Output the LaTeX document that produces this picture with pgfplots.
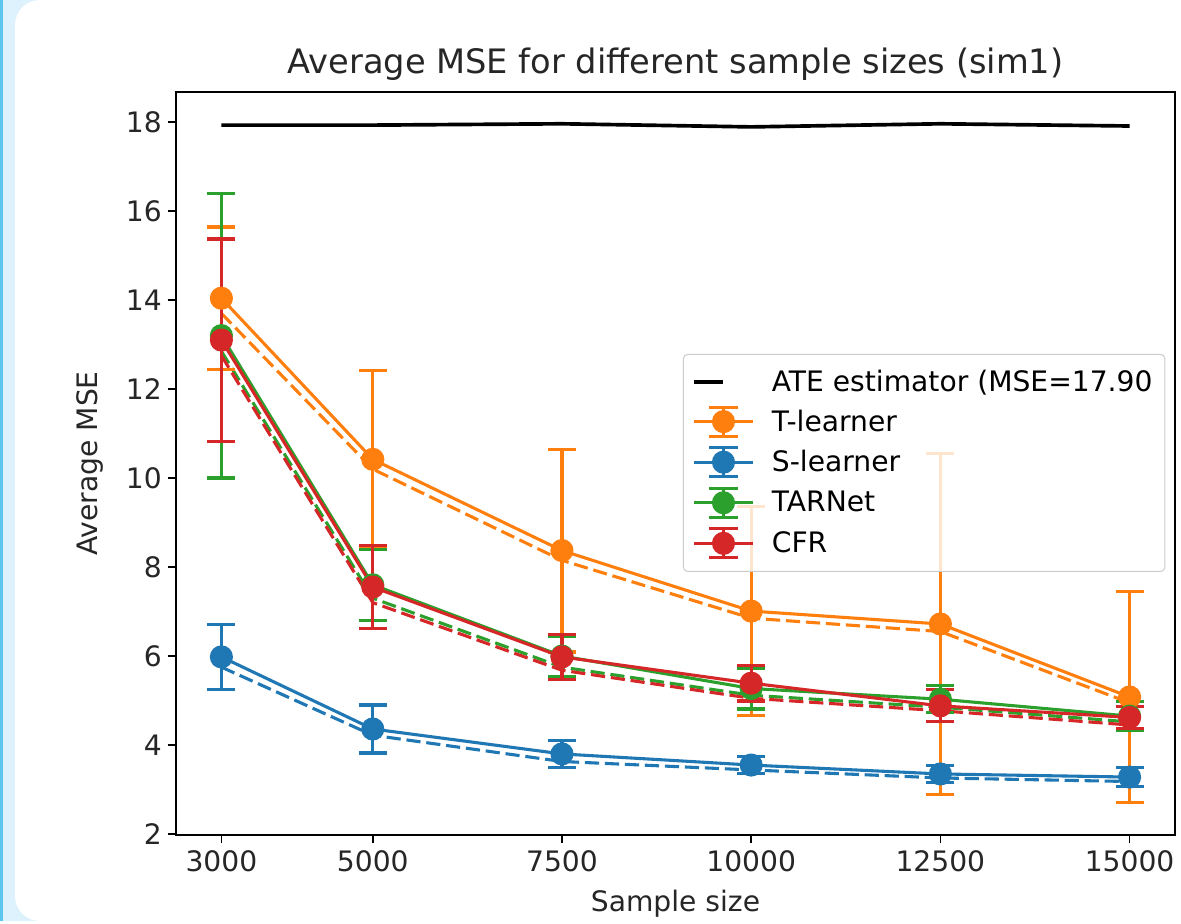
\documentclass[border=0pt]{standalone}
\usepackage{fontspec}
\setmainfont{DejaVu Sans}
\usepackage{pgfplots}
\pgfplotsset{compat=1.18}

\definecolor{tOrange}{HTML}{FF7F0E}
\definecolor{tBlue}{HTML}{1F77B4}
\definecolor{tGreen}{HTML}{2CA02C}
\definecolor{tRed}{HTML}{D62728}
\definecolor{panelblue}{HTML}{DDF2FC}
\definecolor{edgeblue}{HTML}{5CC6EE}

% legend sample: line + circle + capped vertical bar, like matplotlib errorbar
\pgfplotsset{
  errleg/.style={legend image code/.code={
    \begin{scope}[draw=#1, fill=#1, line width=1.85pt, draw opacity=1, fill opacity=1]
      \draw (0pt,0pt) -- (35pt,0pt);
      \draw (17.5pt,-8.7pt) -- (17.5pt,8.7pt);
      \draw (9pt,-8.7pt) -- (26pt,-8.7pt) (9pt,8.7pt) -- (26pt,8.7pt);
      \fill (17.5pt,0pt) circle (6pt);
    \end{scope}}},
  mainline/.style={line width=1.85pt, mark=*, mark size=6pt, mark options={solid},
    error bars/y dir=both, error bars/y explicit,
    error bars/error bar style={line width=1.85pt, solid},
    error bars/error mark options={rotate=90, mark size=8.4pt, line width=1.85pt}},
  dashline/.style={line width=1.85pt, dash pattern=on 8.5pt off 3.5pt, forget plot},
}

\begin{document}
\begin{tikzpicture}
\begin{scope}[x=0.6pt, y=-0.6pt]
  \useasboundingbox (0,0) rectangle (1181,921);
  \fill[panelblue] (0,0) rectangle (1181,921);
  \fill[white, rounded corners=15pt] (15,0) rectangle (1240,921);
  \fill[edgeblue] (0,0) rectangle (2.5,921);
\end{scope}
\begin{axis}[
    at={(105.6pt,-55.2pt)}, anchor=north west,
    width=599.4pt, height=445.8pt, scale only axis,
    xmin=2400, xmax=15600,
    ymin=1.978, ymax=18.674,
    xtick={3000,5000,7500,10000,12500,15000},
    ytick={2,4,6,8,10,12,14,16,18},
    scaled x ticks=false,
    xtick pos=bottom, ytick pos=left,
    tick align=outside,
    major tick length=5pt,
    tick style={black, line width=0.9pt},
    axis line style={black, line width=0.9pt},
    /pgf/number format/1000 sep={},
    /pgf/number format/assume math mode=true,
    tick label style={font=\fontsize{16.9}{19}\selectfont, text=black!85},
    xticklabel style={yshift=-1pt},
    title={Average MSE for different sample sizes (sim1)},
    title style={font=\fontsize{20.2}{23}\selectfont, anchor=base,
      at={(axis description cs:0.5,1.0108)}, text=black!85},
    xlabel={Sample size},
    xlabel style={font=\fontsize{16.9}{19}\selectfont, anchor=base,
      at={(axis description cs:0.5,-0.1036)}, text=black!85},
    ylabel={Average MSE},
    ylabel style={font=\fontsize{16.9}{19}\selectfont, anchor=base, rotate=0,
      at={(axis description cs:-0.0781,0.5)}, text=black!85},
    legend cell align=left,
    legend style={
      font=\fontsize{16.9}{19}\selectfont,
      at={(0.5075,0.6474)}, anchor=north west,
      draw=black!20, line width=0.6pt, fill=white,
      fill opacity=0.8, draw opacity=1, text opacity=1,
      rounded corners=2.4pt,
      inner xsep=5.4pt, inner ysep=7.2pt,
      row sep=5.1pt,
      /tikz/every odd column/.append style={column sep=8.6pt},
    },
    every axis plot/.append style={line join=round},
]
  % ATE baseline
  \addplot[black, line width=2.2pt] coordinates {
    (3000,17.93) (5000,17.93) (7500,17.96) (10000,17.89) (12500,17.96) (15000,17.91)
  };
  \addlegendentry{ATE estimator (MSE=17.90}

  % dashed companions (no legend)
  \addplot[tOrange, dashline] coordinates {
    (3000,13.70) (5000,10.20) (7500,8.15) (10000,6.85) (12500,6.55) (15000,4.95)
  };
  \addplot[tBlue, dashline] coordinates {
    (3000,5.75) (5000,4.22) (7500,3.63) (10000,3.44) (12500,3.26) (15000,3.18)
  };
  \addplot[tGreen, dashline] coordinates {
    (3000,12.85) (5000,7.30) (7500,5.75) (10000,5.12) (12500,4.85) (15000,4.52)
  };
  \addplot[tRed, dashline] coordinates {
    (3000,12.75) (5000,7.20) (7500,5.68) (10000,5.05) (12500,4.77) (15000,4.45)
  };

  % means with error bars
  \addplot[color=tOrange, mainline, errleg=tOrange] coordinates {
    (3000,14.04) +- (0,1.60)
    (5000,10.42) +- (0,2.00)
    (7500,8.37)  +- (0,2.28)
    (10000,7.01) +- (0,2.35)
    (12500,6.72) +- (0,3.83)
    (15000,5.08) +- (0,2.37)
  };
  \addlegendentry{T-learner}
  \addplot[color=tBlue, mainline, errleg=tBlue] coordinates {
    (3000,5.98)  +- (0,0.73)
    (5000,4.36)  +- (0,0.54)
    (7500,3.80)  +- (0,0.31)
    (10000,3.55) +- (0,0.19)
    (12500,3.35) +- (0,0.20)
    (15000,3.28) +- (0,0.21)
  };
  \addlegendentry{S-learner}
  \addplot[color=tGreen, mainline, errleg=tGreen] coordinates {
    (3000,13.20) +- (0,3.20)
    (5000,7.60)  +- (0,0.80)
    (7500,6.00)  +- (0,0.45)
    (10000,5.27) +- (0,0.46)
    (12500,5.03) +- (0,0.30)
    (15000,4.65) +- (0,0.33)
  };
  \addlegendentry{TARNet}
  \addplot[color=tRed, mainline, errleg=tRed] coordinates {
    (3000,13.10) +- (0,2.27)
    (5000,7.55)  +- (0,0.94)
    (7500,5.98)  +- (0,0.50)
    (10000,5.39) +- (0,0.40)
    (12500,4.88) +- (0,0.36)
    (15000,4.62) +- (0,0.24)
  };
  \addlegendentry{CFR}
\end{axis}
\end{tikzpicture}
\end{document}
